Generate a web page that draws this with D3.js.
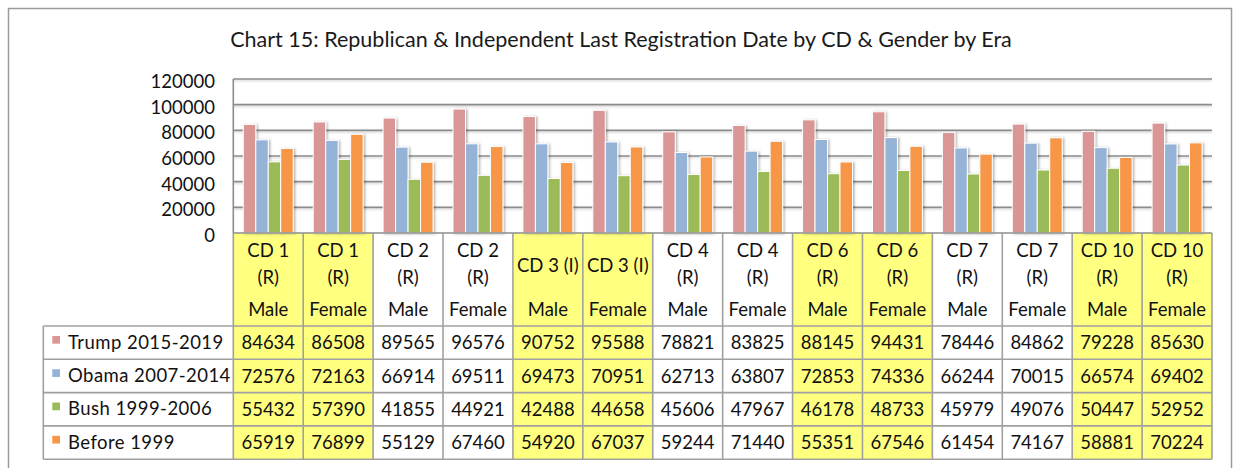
<!DOCTYPE html>
<html>
<head>
<meta charset="utf-8">
<script src="https://cdn.jsdelivr.net/npm/d3@7/dist/d3.min.js"></script>
<style>
  html, body { margin: 0; padding: 0; background: #ffffff; }
  svg { display: block; }
  text { font-family: Lato, "Open Sans", sans-serif; }
</style>
</head>
<body>
<svg id="chart" width="1235" height="468"></svg>
<script>
// ---------- DATA ----------
const districts = ["CD 1", "CD 1", "CD 2", "CD 2", "CD 3", "CD 3", "CD 4", "CD 4", "CD 6", "CD 6", "CD 7", "CD 7", "CD 10", "CD 10"];
const parties   = ["(R)", "(R)", "(R)", "(R)", "(I)", "(I)", "(R)", "(R)", "(R)", "(R)", "(R)", "(R)", "(R)", "(R)"];
const genders   = ["Male", "Female", "Male", "Female", "Male", "Female", "Male", "Female", "Male", "Female", "Male", "Female", "Male", "Female"];
const highlighted = [true, true, false, false, true, true, false, false, true, true, false, false, true, true];

const seriesNames = ["Trump 2015-2019", "Obama 2007-2014", "Bush 1999-2006", "Before 1999"];
const trump  = [84634, 86508, 89565, 96576, 90752, 95588, 78821, 83825, 88145, 94431, 78446, 84862, 79228, 85630];
const obama  = [72576, 72163, 66914, 69511, 69473, 70951, 62713, 63807, 72853, 74336, 66244, 70015, 66574, 69402];
const bush   = [55432, 57390, 41855, 44921, 42488, 44658, 45606, 47967, 46178, 48733, 45979, 49076, 50447, 52952];
const before = [65919, 76899, 55129, 67460, 54920, 67037, 59244, 71440, 55351, 67546, 61454, 74167, 58881, 70224];
const seriesColors = ["#d99694", "#95b3d7", "#9bbb59", "#f79646"];
const yTicks = [0, 20000, 40000, 60000, 80000, 100000, 120000];
const titleText = "Chart 15: Republican & Independent Last Registration Date by CD & Gender by Era";

const seriesValues = [trump, obama, bush, before];

// ---------- LAYOUT ----------
const svg = d3.select("#chart");
const plotLeft = 233.3, plotRight = 1212, plotTop = 79, plotBottom = 233;
const tableTop = plotBottom, headerBottom = 326, rowH = 33.3;
const legendLeft = 43.3;
const gridColor = "#8c8c8c";
const tableLine = "#a0a0a0";

const defs = svg.append("defs");
const sh = defs.append("filter").attr("id", "shadow").attr("x", "-30%").attr("y", "-10%").attr("width", "180%").attr("height", "130%");
sh.append("feDropShadow").attr("dx", 1.5).attr("dy", 0.5).attr("stdDeviation", 1.2).attr("flood-color", "#000").attr("flood-opacity", 0.3);
const gs = defs.append("filter").attr("id", "gshadow").attr("x", "-5%").attr("y", "-200%").attr("width", "110%").attr("height", "500%");
gs.append("feDropShadow").attr("dx", 0).attr("dy", 1.2).attr("stdDeviation", 0.8).attr("flood-color", "#000").attr("flood-opacity", 0.2);

// outer border
svg.append("rect").attr("x", 8.5).attr("y", 8.5).attr("width", 1223).attr("height", 475)
  .attr("fill", "none").attr("stroke", "#9a9a9a").attr("stroke-width", 1.5);

// title
const title = svg.append("text").attr("x", 621).attr("y", 46.7).attr("text-anchor", "middle")
  .attr("fill", "#1a1a1a").style("font-size", "21px").text(titleText);
const tw = title.node().getComputedTextLength();
title.style("font-size", (21 * 782 / tw) + "px");

// scales
const x = d3.scaleBand().domain(d3.range(districts.length)).range([plotLeft, plotRight]).padding(0);
const x1 = d3.scaleBand().domain(d3.range(seriesValues.length)).range([0, x.bandwidth()]).paddingInner(0).paddingOuter(0.8);
const y = d3.scaleLinear().domain([0, 120000]).range([plotBottom, plotTop]);

// yellow highlight columns in table
const tableBottom = headerBottom + rowH * seriesValues.length;
svg.append("g").selectAll("rect").data(d3.range(districts.length).filter(i => highlighted[i])).join("rect")
  .attr("x", i => x(i)).attr("y", tableTop).attr("width", x.bandwidth()).attr("height", tableBottom - tableTop)
  .attr("fill", "#ffff80");

// gridlines
svg.append("g").attr("filter", "url(#gshadow)").selectAll("line").data(yTicks.filter(t => t > 0)).join("line")
  .attr("x1", plotLeft).attr("x2", plotRight).attr("y1", d => y(d)).attr("y2", d => y(d))
  .attr("stroke", gridColor).attr("stroke-width", 1.6);

// y axis labels
const yAxis = d3.axisLeft(y).tickValues(yTicks).tickSize(0).tickPadding(0).tickFormat(d3.format("d"));
const yg = svg.append("g").attr("transform", `translate(215,0)`).call(yAxis);
yg.select(".domain").remove();
yg.selectAll("text").attr("fill", "#111").attr("dy", null).attr("y", 8.5)
  .style("font-size", "18.5px").style("font-family", "Lato, 'Open Sans', sans-serif");

// plot left border
svg.append("line").attr("x1", plotLeft).attr("x2", plotLeft).attr("y1", plotTop).attr("y2", plotBottom)
  .attr("stroke", gridColor).attr("stroke-width", 1.6);

// bars
const groups = svg.append("g").selectAll("g").data(d3.range(districts.length)).join("g")
  .attr("transform", i => `translate(${x(i)},0)`);
groups.selectAll("rect").data(i => seriesValues.map((s, k) => ({ k, v: s[i] }))).join("rect")
  .attr("x", d => x1(d.k)).attr("width", x1.bandwidth())
  .attr("y", d => y(d.v)).attr("height", d => plotBottom - y(d.v))
  .attr("fill", d => seriesColors[d.k]).attr("stroke", "#ffffff").attr("stroke-width", 1)
  .attr("filter", "url(#shadow)");

// table lines
const tl = svg.append("g").attr("stroke", tableLine).attr("stroke-width", 1.6).attr("fill", "none");
tl.append("line").attr("x1", plotLeft).attr("x2", plotRight).attr("y1", tableTop).attr("y2", tableTop).attr("stroke", gridColor);
d3.range(districts.length + 1).forEach(i => {
  const xx = i < districts.length ? x(i) : plotRight;
  tl.append("line").attr("x1", xx).attr("x2", xx).attr("y1", tableTop).attr("y2", tableBottom);
});
tl.append("line").attr("x1", legendLeft).attr("x2", legendLeft).attr("y1", headerBottom).attr("y2", tableBottom);
d3.range(seriesValues.length + 1).forEach(r => {
  const yy = headerBottom + r * rowH;
  tl.append("line").attr("x1", legendLeft).attr("x2", plotRight).attr("y1", yy).attr("y2", yy);
});

// header text
const hdr = svg.append("g").attr("fill", "#111").attr("text-anchor", "middle").style("font-size", "18.5px");
d3.range(districts.length).forEach(i => {
  const cx = x(i) + x.bandwidth() / 2;
  if (parties[i] === "(I)") {
    hdr.append("text").attr("x", cx).attr("y", 271.6).text(districts[i] + " " + parties[i]);
  } else {
    hdr.append("text").attr("x", cx).attr("y", 257).text(districts[i]);
    hdr.append("text").attr("x", cx).attr("y", 283.6).text(parties[i]);
  }
  hdr.append("text").attr("x", cx).attr("y", 315.6).text(genders[i]);
});

// values
const vals = svg.append("g").attr("fill", "#111").attr("text-anchor", "middle").style("font-size", "18.5px");
seriesValues.forEach((s, r) => {
  const cy = headerBottom + r * rowH + rowH / 2;
  s.forEach((v, i) => {
    vals.append("text").attr("x", x(i) + x.bandwidth() / 2).attr("y", cy + 6.8).text(v);
  });
});

// legend rows
const leg = svg.append("g");
seriesNames.forEach((n, r) => {
  const cy = headerBottom + r * rowH + rowH / 2;
  leg.append("rect").attr("x", 52.3).attr("y", cy - 6.7).attr("width", 7.7).attr("height", 7.7).attr("fill", seriesColors[r]);
  leg.append("text").attr("x", 68).attr("y", cy + 6).attr("fill", "#111").style("font-size", "18.5px")
    .style("letter-spacing", "0.45px").text(n);
});
</script>
</body>
</html>
